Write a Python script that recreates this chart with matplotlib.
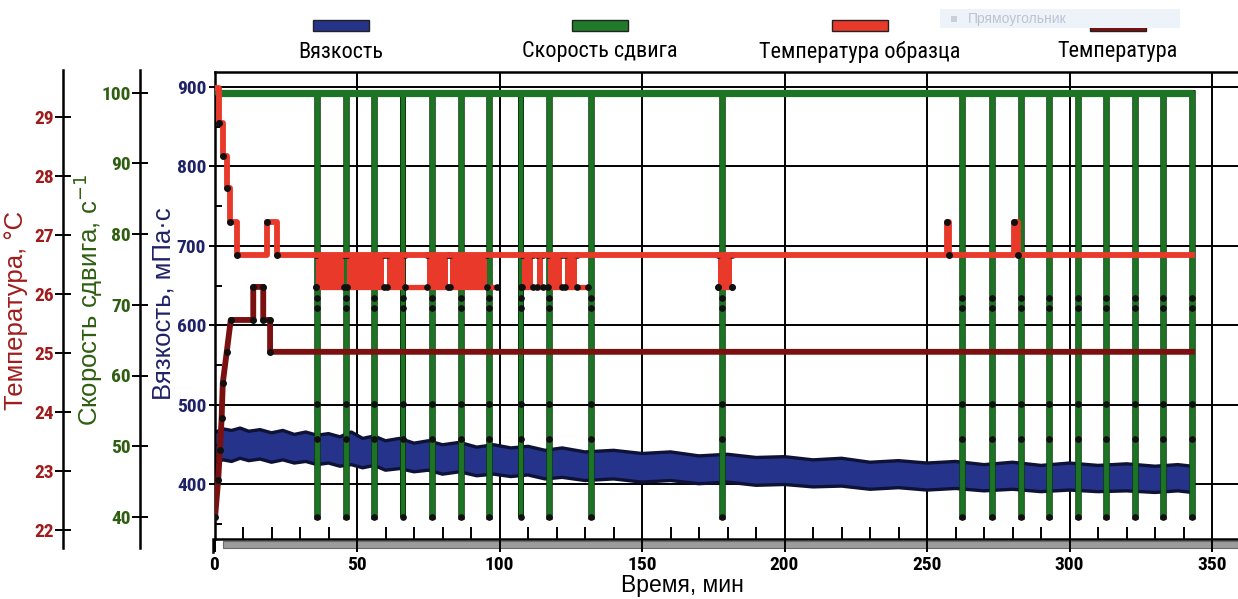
import matplotlib
matplotlib.use('Agg')
import matplotlib.pyplot as plt
from matplotlib.patches import Rectangle
from matplotlib.lines import Line2D
import matplotlib.patheffects as pe
from matplotlib import font_manager as fm

# ---------------- data ----------------
# Viscosity band (mPa·s): time, upper and lower envelope
visc_t  = [0.5, 3, 6, 9, 12, 16, 20, 24, 28, 32, 36, 40, 44, 48, 52, 56, 60, 65, 70, 75, 80,
           86, 92, 98, 104, 110, 116, 122, 130, 140, 150, 160, 170, 180, 190, 200, 210, 220,
           230, 240, 250, 260, 270, 280, 290, 300, 310, 320, 330, 338, 343]
visc_hi = [466, 470, 468, 471, 467, 469, 465, 468, 463, 466, 462, 464, 460, 466, 458, 461, 455,
           458, 452, 455, 450, 453, 447, 450, 446, 448, 443, 446, 441, 443, 439, 441, 436, 438,
           434, 435, 431, 433, 428, 430, 427, 429, 425, 428, 424, 427, 424, 426, 423, 425, 423]
visc_lo = [428, 431, 429, 433, 430, 432, 428, 431, 427, 429, 425, 427, 423, 425, 421, 424, 418,
           420, 416, 418, 413, 416, 411, 413, 410, 412, 407, 409, 405, 407, 403, 405, 401, 403,
           399, 400, 397, 398, 394, 396, 393, 395, 392, 394, 391, 393, 391, 392, 390, 392, 390]

# Shear rate (1/s): base level, drop times and levels of the sample points on each drop
shear_base = 100
shear_low = 40
shear_start, shear_end = 0.5, 343.2
drop_times = [36.1, 46.1, 56.0, 66.0, 76.2, 86.4, 96.4, 107.4, 117.3, 132.0, 178.1,
              262.4, 272.7, 282.9, 292.8, 302.9, 312.8, 323.0, 332.9, 343.0]
drop_point_levels = [71, 69.5, 56, 51, 40]

# Sample temperature (°C), step function
sample_t = [0.0, 1.7, 2.9, 4.3, 5.4, 7.8, 18.4, 21.9, 257.1, 257.6, 280.6, 282.0, 343.0]
sample_T = [29.49, 28.90, 28.34, 27.80, 27.22, 26.66, 27.22, 26.66, 27.22, 26.66, 27.22, 26.66, 26.66]
sample_low = 26.12
sample_low_segments = [(35.5, 99.0), (107.5, 131.0), (176.8, 181.5)]
sample_toggle_blocks = [(35.5, 45.5), (46.5, 59.5), (60.5, 66.8), (74.5, 82.0), (82.8, 95.5),
                        (107.8, 111.9), (113.0, 115.4), (117.1, 121.8), (123.0, 127.1),
                        (176.8, 181.5)]

# Temperature (°C)
temp_t = [0.2, 1.3, 1.9, 2.5, 2.9, 4.3, 5.7, 13.6, 13.6, 17.1, 17.1, 19.5, 19.5, 343.0]
temp_T = [22.22, 22.85, 23.36, 23.89, 24.49, 25.02, 25.56, 25.56, 26.12, 26.12, 25.56, 25.56, 25.02, 25.02]

legend_labels = ['Вязкость', 'Скорость сдвига', 'Температура образца', 'Температура']
x_ticks = [0, 50, 100, 150, 200, 250, 300, 350]
visc_ticks = [400, 500, 600, 700, 800, 900]
shear_ticks = [40, 50, 60, 70, 80, 90, 100]
temp_ticks = [22, 23, 24, 25, 26, 27, 28, 29]

# ---------------- colours ----------------
C_VISC = '#26338a'
C_VISC_EDGE = '#0d1236'
C_SHEAR = '#1c7424'
C_SHEAR_EDGE = '#0b3c0e'
C_SAMPLE = '#e8392a'
C_TEMP = '#7b1010'
C_VISC_TXT = '#1f2266'
C_SHEAR_TXT = '#2e5e10'
C_TEMP_TXT = '#a01c1c'

# ---------------- fonts ----------------
_names = {f.name for f in fm.fontManager.ttflist}
NARROW_STRETCH = 'normal'
NARROW = None
for cand in ['Liberation Sans Narrow', 'Arial Narrow', 'Roboto Condensed', 'Open Sans Condensed',
             'Noto Sans Condensed', 'DejaVu Sans Condensed']:
    if cand in _names:
        NARROW = cand
        break
if NARROW is None:
    cond_fams = [f.name for f in fm.fontManager.ttflist
                 if str(f.stretch) in ('condensed', 'semi-condensed', 'extra-condensed')]
    for pref in ['Liberation Sans', 'Noto Sans', 'Roboto', 'Open Sans', 'DejaVu Sans']:
        if pref in cond_fams:
            NARROW = pref
            NARROW_STRETCH = 'condensed'
            break
if NARROW is None:
    NARROW = 'Liberation Sans'
NARROW_LIST = [NARROW, 'DejaVu Sans']
REG = ['Liberation Sans', 'DejaVu Sans']
HAVE_NARROW = NARROW != 'Liberation Sans' or NARROW_STRETCH != 'normal'
TICK_SIZE = 14 if HAVE_NARROW else 12.5

W, H = 1238, 599
fig = plt.figure(figsize=(W / 100, H / 100), dpi=100)


def fx(px):
    return px / W


def fy(py):
    return 1 - py / H


X0, X1 = 214.5, 1238
PX_PER_MIN = 2.85
XMAX = (X1 - X0) / PX_PER_MIN

# main axes (viscosity)
ytop, ybot = 72, 539
ax = fig.add_axes([fx(X0), fy(ybot), (X1 - X0) / W, (ybot - ytop) / H])
ax.set_xlim(0, XMAX)
v_per_px = 100 / 79.5
ax.set_ylim(400 - (ybot - 484.5) * v_per_px, 900 + (87 - ytop) * v_per_px)

ax.set_xticks(x_ticks)
ax.set_xticks(range(10, 360, 10), minor=True)
ax.set_yticks(visc_ticks)
ax.set_yticks([350, 450, 550, 650, 750, 850], minor=True)
ax.grid(True, which='major', color='black', lw=1.4)
ax.set_axisbelow(True)
ax.spines['right'].set_visible(False)
for s in ['left', 'top', 'bottom']:
    ax.spines[s].set_linewidth(1.8)
ax.tick_params(axis='x', which='major', direction='out', length=9.5, width=1.4, pad=3,
               labelsize=TICK_SIZE)
ax.tick_params(axis='x', which='minor', direction='in', length=8.5, width=1.4)
ax.tick_params(axis='y', which='major', direction='inout', length=8, width=1.4, pad=2,
               labelsize=TICK_SIZE, labelcolor=C_VISC_TXT)
ax.tick_params(axis='y', which='minor', direction='in', length=5, width=1.4)
for lab in ax.get_xticklabels() + ax.get_yticklabels():
    lab.set_family(NARROW_LIST)
    lab.set_fontstretch(NARROW_STRETCH)
    lab.set_fontweight('bold')

ax.fill_between(visc_t, visc_lo, visc_hi, color=C_VISC, lw=0, zorder=2)
ax.plot(visc_t, visc_hi, color=C_VISC_EDGE, lw=2.4, zorder=2)
ax.plot(visc_t, visc_lo, color=C_VISC_EDGE, lw=2.4, zorder=2)

ax.set_ylabel('Вязкость, мПа·с', family=REG, fontsize=18.5, color=C_VISC_TXT)
ax.yaxis.set_label_coords((175 - X0) / (X1 - X0), (ybot - 304) / (ybot - ytop))
ax.set_xlabel('Время, мин', family=REG, fontsize=16.5, color='black')
ax.xaxis.set_label_coords((682 - X0) / (X1 - X0), -(574 - ybot) / (ybot - ytop))

# secondary axes (shear, temperature) share the same x range but longer spines
sy_top, sy_bot = 70, 548
rect2 = [fx(X0), fy(sy_bot), (X1 - X0) / W, (sy_bot - sy_top) / H]

ax_s = fig.add_axes(rect2)
ax_s.patch.set_visible(False)
ax_s.set_xlim(0, XMAX)
s_px = 7.075
ax_s.set_ylim(40 - (sy_bot - 517) / s_px, 100 + (92.5 - sy_top) / s_px)

ax_t = fig.add_axes(rect2)
ax_t.patch.set_visible(False)
ax_t.set_xlim(0, XMAX)
t_px = 59.0
ax_t.set_ylim(22 - (sy_bot - 530) / t_px, 29 + (117 - sy_top) / t_px)

for a, xpix, ticks, col, lab, lx, ly in [
        (ax_s, 140, shear_ticks, C_SHEAR_TXT, 'Скорость сдвига, с$^{-1}$', 105, 300),
        (ax_t, 63, temp_ticks, C_TEMP_TXT, 'Температура, °C', 28, 310)]:
    for s in ['right', 'top', 'bottom']:
        a.spines[s].set_visible(False)
    a.spines['left'].set_position(('axes', (xpix - X0) / (X1 - X0)))
    a.spines['left'].set_linewidth(1.8)
    a.set_xticks([])
    a.set_yticks(ticks)
    a.tick_params(axis='y', direction='inout', length=11, width=1.4, pad=1,
                  labelsize=TICK_SIZE, labelcolor=col)
    for t in a.get_yticklabels():
        t.set_family(NARROW_LIST)
        t.set_fontstretch(NARROW_STRETCH)
        t.set_fontweight('bold')
    a.set_ylabel(lab, family=REG, fontsize=18.5, color=col)
    a.yaxis.set_label_coords((lx - X0) / (X1 - X0), (sy_bot - ly) / (sy_bot - sy_top))

# shear rate series
gt, gv = [shear_start], [shear_base]
for d in drop_times:
    gt += [d, d, d + 0.3, d + 0.3]
    gv += [shear_base, shear_low, shear_low, shear_base]
gt.append(shear_end)
gv.append(shear_base)
ax_s.plot(gt, gv, color=C_SHEAR, lw=2.8, solid_joinstyle='miter', zorder=3,
          path_effects=[pe.Stroke(linewidth=4.0, foreground=C_SHEAR_EDGE), pe.Normal()])
ax_s.plot([shear_start, shear_end], [shear_base, shear_base], color=C_SHEAR, lw=5.2,
          zorder=3, solid_capstyle='butt')
pt_x = [d for d in drop_times for _ in drop_point_levels]
pt_y = [lv for _ in drop_times for lv in drop_point_levels]
ax_s.plot(pt_x, pt_y, 'o', color='#101010', ms=3.8, zorder=4)

# sample temperature
for a0, a1 in sample_toggle_blocks:
    ax_t.fill_between([a0, a1], [sample_low] * 2, [sample_T[-1]] * 2, color=C_SAMPLE,
                      lw=0, zorder=5)
for a0, a1 in sample_low_segments:
    ax_t.plot([a0, a1], [sample_low, sample_low], color=C_SAMPLE, lw=3.8, zorder=5,
              solid_capstyle='butt')
    ax_t.plot([a0, a1], [sample_low, sample_low], 'o', color='#101010', ms=3.8, zorder=6)
edge_x = [b for blk in sample_toggle_blocks for b in blk]
ax_t.plot(edge_x, [sample_T[-1]] * len(edge_x), 'o', color='#101010', ms=3.8, zorder=6)
ax_t.plot(edge_x, [sample_low] * len(edge_x), 'o', color='#101010', ms=3.8, zorder=6)
ax_t.plot(sample_t, sample_T, drawstyle='steps-post', color=C_SAMPLE, lw=4.2, zorder=6)
ax_t.plot(sample_t[1:-1], sample_T[1:-1], 'o', color='#101010', ms=4.0, zorder=7)

# temperature
ax_t.plot(temp_t, temp_T, color=C_TEMP, lw=4.2, zorder=6)
ax_t.plot(temp_t[:-1], temp_T[:-1], 'o', color='#101010', ms=4, zorder=7)

# ---------------- decorations ----------------
fig.add_artist(Rectangle((fx(222.7), fy(548)), fx(X1 - 222.7), 7.3 / H,
                         transform=fig.transFigure, facecolor='#9c9c9c',
                         edgecolor='#6a6a6a', lw=0.8, zorder=-1))
fig.add_artist(Line2D([fx(X0 - 1), fx(X0 - 1)], [fy(539), fy(552)], color='black', lw=1.8,
                      transform=fig.transFigure))

leg_cols = [C_VISC, '#1f7a2a', C_SAMPLE, C_TEMP]
leg_cx = [341, 600, 860, 1118]
for lab, col, cx in zip(legend_labels, leg_cols, leg_cx):
    fig.add_artist(Rectangle((fx(cx - 28), fy(31)), 56 / W, 11 / H,
                             transform=fig.transFigure, facecolor=col,
                             edgecolor='#222222', lw=1.0))
    fig.text(fx(cx), fy(52), lab, ha='center', va='center',
             fontsize=16 if HAVE_NARROW else 13.5,
             family=NARROW_LIST, fontstretch=NARROW_STRETCH, color='#000000')

fig.add_artist(Rectangle((fx(940), fy(28)), 240 / W, 19 / H, transform=fig.transFigure,
                         facecolor='#eef2f9', edgecolor='none'))
fig.text(fx(968), fy(18.5), 'Прямоугольник', ha='left', va='center', fontsize=10,
         family=REG, color='#bcc4d2')
fig.add_artist(Rectangle((fx(951), fy(22)), 6 / W, 6 / H, transform=fig.transFigure,
                         facecolor='#c8d0dc', edgecolor='none'))

fig.savefig('out.png', dpi=100)
